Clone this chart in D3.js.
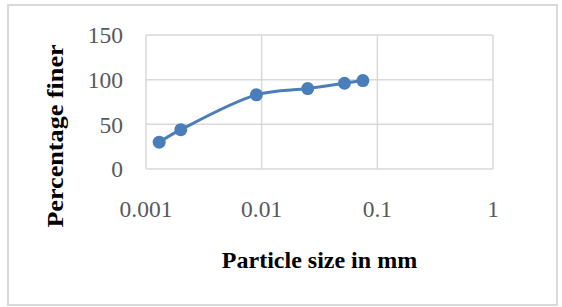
<!DOCTYPE html>
<html>
<head>
<meta charset="utf-8">
<script src="https://cdn.jsdelivr.net/npm/d3@7"></script>
<style>
  body { margin: 0; background: #fff; }
  svg { display: block; }
  text { font-family: "Liberation Serif", "Times New Roman", serif; }
</style>
</head>
<body>
<svg width="562" height="307"></svg>
<script>
// particle size (mm) and percent finer
const sizes = [0.0013, 0.002, 0.009, 0.025, 0.052, 0.075];
const finer = [30, 44, 83, 90, 96, 99];
const xTicks = [0.001, 0.01, 0.1, 1];
const yTicks = [0, 50, 100, 150];

const svg = d3.select("svg");
const margin = { top: 35, right: 69, bottom: 138, left: 146 };
const width = 562 - margin.left - margin.right;
const height = 307 - margin.top - margin.bottom;

// outer chart border
svg.append("rect")
    .attr("x", 8).attr("y", 5)
    .attr("width", 549).attr("height", 300)
    .attr("fill", "none")
    .attr("stroke", "#d9d9d9")
    .attr("stroke-width", 2);

const g = svg.append("g").attr("transform", `translate(${margin.left},${margin.top})`);

const x = d3.scaleLog().domain([0.001, 1]).range([0, width]);
const y = d3.scaleLinear().domain([0, 150]).range([height, 0]);

// grid
g.append("g").selectAll("line").data(yTicks).join("line")
    .attr("x1", 0).attr("x2", width)
    .attr("y1", d => y(d)).attr("y2", d => y(d))
    .attr("stroke", "#d9d9d9").attr("stroke-width", 1.5);
g.append("g").selectAll("line").data(xTicks).join("line")
    .attr("x1", d => x(d)).attr("x2", d => x(d))
    .attr("y1", 0).attr("y2", height)
    .attr("stroke", "#d9d9d9").attr("stroke-width", 1.5);

// tick labels
g.append("g").selectAll("text").data(yTicks).join("text")
    .attr("x", -23).attr("y", d => y(d))
    .attr("dy", "0.35em")
    .attr("text-anchor", "end")
    .attr("fill", "#595959")
    .attr("font-size", 23.5)
    .text(d => d);
g.append("g").selectAll("text").data(xTicks).join("text")
    .attr("x", d => x(d)).attr("y", height + 48)
    .attr("text-anchor", "middle")
    .attr("fill", "#595959")
    .attr("font-size", 23.5)
    .text(d => d);

// series
const pts = sizes.map((s, i) => [x(s), y(finer[i])]);
g.append("path")
    .attr("d", d3.line().curve(d3.curveCatmullRom.alpha(0.5))(pts))
    .attr("fill", "none")
    .attr("stroke", "#4a7ebb")
    .attr("stroke-width", 3);
g.append("g").selectAll("circle").data(pts).join("circle")
    .attr("cx", d => d[0]).attr("cy", d => d[1])
    .attr("r", 6.5)
    .attr("fill", "#4a7ebb");

// axis titles
svg.append("text")
    .attr("x", margin.left + width / 2).attr("y", 268)
    .attr("text-anchor", "middle")
    .attr("font-weight", "bold")
    .attr("font-size", 24)
    .text("Particle size in mm");
svg.append("text")
    .attr("transform", "translate(63,136) rotate(-90) scale(1.09,1)")
    .attr("text-anchor", "middle")
    .attr("font-weight", "bold")
    .attr("font-size", 24)
    .text("Percentage finer");
</script>
</body>
</html>
